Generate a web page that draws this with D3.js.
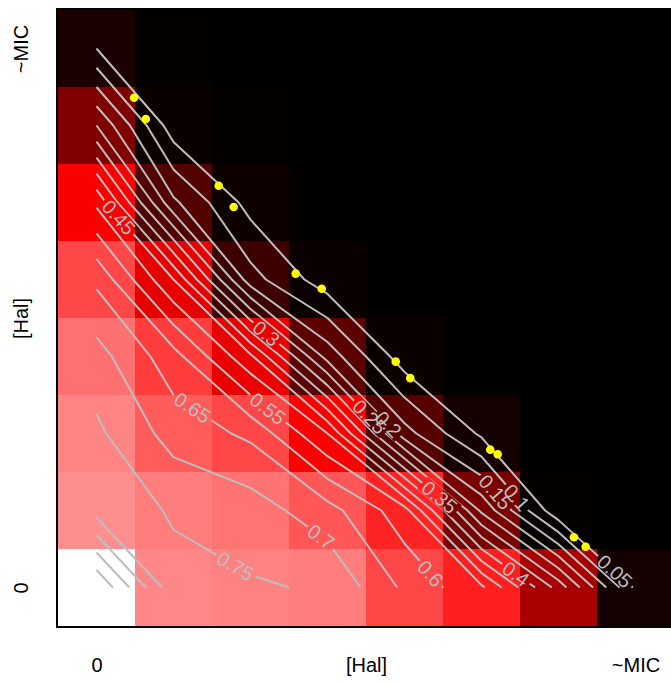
<!DOCTYPE html>
<html>
<head>
<meta charset="utf-8">
<script src="https://cdn.jsdelivr.net/npm/d3@7"></script>
<style>
html, body { margin: 0; padding: 0; background: #ffffff; }
svg { display: block; font-family: "Liberation Sans", Arial, Helvetica, sans-serif; }
</style>
</head>
<body>
<svg id="chart" width="671" height="684"></svg>
<script>
// ---------------- data ----------------
// growth fraction, rows from top ([Hal] ~MIC) to bottom ([Hal] 0), columns left ([Hal] 0) to right (~MIC)
const growth = [
  [0.05, 0.01, 0.00, 0.00, 0.00, 0.00, 0.00, 0.00],
  [0.25, 0.02, 0.01, 0.00, 0.00, 0.00, 0.00, 0.00],
  [0.49, 0.16, 0.03, 0.005, 0.00, 0.00, 0.00, 0.00],
  [0.64, 0.45, 0.12, 0.02, 0.005, 0.00, 0.005, 0.00],
  [0.72, 0.62, 0.46, 0.18, 0.02, 0.005, 0.00, 0.00],
  [0.76, 0.68, 0.64, 0.50, 0.17, 0.04, 0.00, 0.00],
  [0.78, 0.745, 0.725, 0.67, 0.57, 0.24, 0.01, 0.00],
  [1.00, 0.765, 0.755, 0.745, 0.64, 0.56, 0.33, 0.04]
];
const contourLevels = [0.05, 0.1, 0.15, 0.2, 0.25, 0.3, 0.35, 0.4, 0.45, 0.5,
                       0.55, 0.6, 0.65, 0.7, 0.75, 0.8, 0.85, 0.9, 0.95];
const labelLevels = ["0.05", "0.1", "0.15", "0.2", "0.25", "0.3", "0.35", "0.4", "0.45", "0.55", "0.6", "0.65", "0.7", "0.75"];
// where along each contour its label sits (x index, y index from bottom)
const labelHintX = [6.72, 5.47, 5.17, 3.79, 3.53, 2.19, 4.46, 5.47, 0.28, 2.23, 4.36, 1.21, 2.81, 1.76];
const labelHintY = [0.20, 1.18, 1.23, 2.12, 2.20, 3.28, 1.18, 0.21, 4.80, 2.33, 0.20, 2.28, 0.51, 0.20];
// yellow points (x index, y index from bottom)
const dotsX = [0.488, 0.640, 1.587, 1.782, 2.587, 2.925, 3.886, 4.075, 5.114, 5.210, 6.200, 6.353];
const dotsY = [6.361, 6.084, 5.218, 4.942, 4.076, 3.880, 2.933, 2.719, 1.790, 1.730, 0.653, 0.529];
const xTickValues = [0, 3.5, 7];
const xTickLabels = ["0", "[Hal]", "~MIC"];
const yTickValues = [0, 3.5, 7];
const yTickLabels = ["0", "[Hal]", "~MIC"];

// ---------------- layout ----------------
const nRows = growth.length, nCols = growth[0].length;
const plotLeft = 58, plotTop = 10, cellSize = 77;
const plotRight = plotLeft + nCols * cellSize, plotBottom = plotTop + nRows * cellSize;
const lineColor = "#bebebe";

const svg = d3.select("#chart");

const xBand = d3.scaleBand().domain(d3.range(nCols)).range([plotLeft, plotRight]);
const yBand = d3.scaleBand().domain(d3.range(nRows)).range([plotTop, plotBottom]);
// grid coordinates used by d3.contours (value i sits at i+0.5)
const gx = d3.scaleLinear().domain([0, nCols]).range([plotLeft, plotRight]);
const gy = d3.scaleLinear().domain([0, nRows]).range([plotTop, plotBottom]);
// index scales (0 .. 7), y from bottom
const xIdx = d3.scaleLinear().domain([0, nCols - 1]).range([gx(0.5), gx(nCols - 0.5)]);
const yIdx = d3.scaleLinear().domain([0, nRows - 1]).range([gy(nRows - 0.5), gy(0.5)]);

const color = d3.scaleLinear().domain([0, 0.5, 1]).range(["#000000", "#ff0000", "#ffffff"])
  .interpolate(d3.interpolateRgb).clamp(true);

// ---------------- heatmap ----------------
const cells = [];
growth.forEach((row, r) => row.forEach((v, c) => cells.push({ r, c, v })));
svg.append("g").selectAll("rect").data(cells).join("rect")
  .attr("x", d => xBand(d.c))
  .attr("y", d => yBand(d.r))
  .attr("width", xBand.bandwidth() + 0.5)
  .attr("height", yBand.bandwidth() + 0.5)
  .attr("fill", d => color(d.v))
  .attr("shape-rendering", "crispEdges");

// ---------------- contours ----------------
const contourGen = d3.contours().size([nCols, nRows]).thresholds(contourLevels);
const polys = contourGen(growth.flat());

const eps = 1e-9;
function inside(p) {
  return p[0] >= 0.5 - eps && p[0] <= nCols - 0.5 + eps && p[1] >= 0.5 - eps && p[1] <= nRows - 0.5 + eps;
}
function extractLines(mp) {
  const lines = [];
  mp.coordinates.forEach(poly => poly.forEach(ring0 => {
    const ring = ring0.slice(0, -1);
    const n = ring.length;
    const start = ring.findIndex(p => !inside(p));
    if (start < 0) { lines.push(ring0); return; }
    let cur = [];
    for (let k = 1; k <= n; k++) {
      const p = ring[(start + k) % n];
      if (inside(p)) cur.push(p);
      else { if (cur.length > 1) lines.push(cur); cur = []; }
    }
    if (cur.length > 1) lines.push(cur);
  }));
  return lines.map(l => l.map(p => [gx(p[0]), gy(p[1])]));
}
const levelLines = new Map();
polys.forEach(mp => levelLines.set(+mp.value.toFixed(2), extractLines(mp)));

const defs = svg.append("defs");
const mask = defs.append("mask").attr("id", "labelGaps")
  .attr("maskUnits", "userSpaceOnUse").attr("x", 0).attr("y", 0).attr("width", 671).attr("height", 684);
mask.append("rect").attr("x", 0).attr("y", 0).attr("width", 671).attr("height", 684).attr("fill", "#fff");

const lineGen = d3.line();
const contourG = svg.append("g").attr("mask", "url(#labelGaps)");
const allLines = [];
levelLines.forEach((lines, lv) => lines.forEach(l => allLines.push({ lv, l })));
contourG.selectAll("path").data(allLines).join("path")
  .attr("d", d => lineGen(d.l))
  .attr("fill", "none")
  .attr("stroke", lineColor)
  .attr("stroke-width", 2)
  .attr("stroke-linejoin", "round");

// labels
const labelG = svg.append("g");
labelLevels.forEach((txt, i) => {
  const lines = levelLines.get(+txt) || [];
  const tx = xIdx(labelHintX[i]), ty = yIdx(labelHintY[i]);
  let best = null;
  lines.forEach(l => {
    for (let k = 0; k < l.length - 1; k++) {
      const [x0, y0] = l[k], [x1, y1] = l[k + 1];
      const dx = x1 - x0, dy = y1 - y0, L2 = dx * dx + dy * dy;
      if (L2 < 1e-9) continue;
      let t = ((tx - x0) * dx + (ty - y0) * dy) / L2;
      t = Math.max(0, Math.min(1, t));
      const px = x0 + t * dx, py = y0 + t * dy;
      const d2 = (px - tx) ** 2 + (py - ty) ** 2;
      if (!best || d2 < best.d2) best = { d2, px, py, ang: Math.atan2(dy, dx) * 180 / Math.PI };
    }
  });
  if (!best) return;
  let a = best.ang;
  if (a > 90) a -= 180;
  if (a < -90) a += 180;
  const t = labelG.append("text")
    .attr("transform", `translate(${best.px},${best.py}) rotate(${a})`)
    .attr("text-anchor", "middle")
    .attr("dy", "0.36em")
    .attr("font-size", 20)
    .attr("fill", lineColor)
    .text(txt);
  const w = t.node().getComputedTextLength();
  mask.append("rect")
    .attr("transform", `translate(${best.px},${best.py}) rotate(${a})`)
    .attr("x", -w / 2 - 3).attr("y", -8).attr("width", w + 6).attr("height", 16)
    .attr("fill", "#000");
});

// ---------------- dots ----------------
svg.append("g").selectAll("circle").data(dotsX.map((x, i) => [x, dotsY[i]])).join("circle")
  .attr("cx", d => xIdx(d[0]))
  .attr("cy", d => yIdx(d[1]))
  .attr("r", 4.3)
  .attr("fill", "#ffff00");

// ---------------- frame ----------------
svg.append("rect")
  .attr("x", plotLeft - 1).attr("y", plotTop - 1)
  .attr("width", plotRight - plotLeft + 2).attr("height", plotBottom - plotTop + 2)
  .attr("fill", "none").attr("stroke", "#000").attr("stroke-width", 2);

// ---------------- axes (labels only) ----------------
const xAxis = d3.axisBottom(xIdx).tickValues(xTickValues)
  .tickFormat((d, i) => xTickLabels[i]).tickSize(0).tickPadding(0);
const xg = svg.append("g").attr("transform", `translate(0,672)`).call(xAxis);
xg.select(".domain").remove();
xg.selectAll("text").attr("dy", null).attr("y", 0)
  .attr("font-size", 20).attr("font-family", null).attr("fill", "#000");

const yAxis = d3.axisLeft(yIdx).tickValues(yTickValues)
  .tickFormat((d, i) => yTickLabels[i]).tickSize(0).tickPadding(0);
const yg = svg.append("g").attr("transform", `translate(28,0)`).call(yAxis);
yg.select(".domain").remove();
yg.selectAll("text")
  .attr("x", 0).attr("dy", null).attr("y", 0)
  .attr("transform", "rotate(-90)")
  .attr("text-anchor", "middle")
  .attr("font-size", 20).attr("font-family", null).attr("fill", "#000");
</script>
</body>
</html>
